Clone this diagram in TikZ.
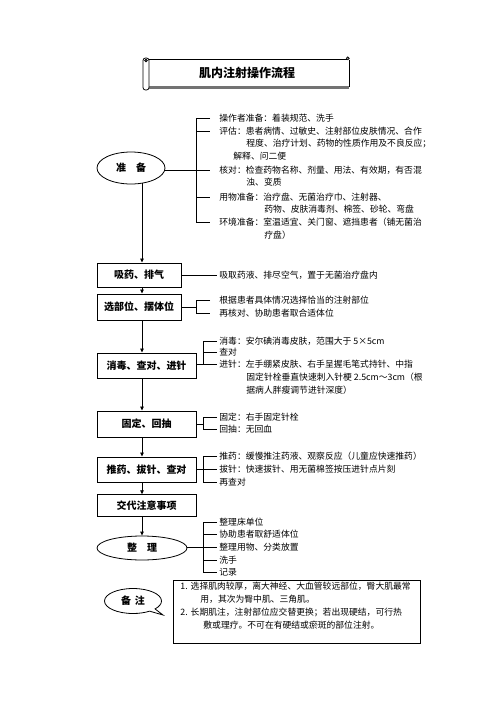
\documentclass[tikz,border=0pt]{standalone}
\usepackage{fontspec}
\setmainfont{Noto Sans CJK SC}
\usetikzlibrary{shapes.geometric,shapes.callouts,arrows.meta}
\begin{document}
\begin{tikzpicture}[x=1pt,y=-1pt,line width=0.8pt,
  txt/.style={anchor=west,inner sep=0pt,text height=7.5pt,text depth=1pt,font=\fontsize{8.8}{10}\selectfont},
  box/.style={draw,line width=0.9pt,inner sep=0pt,font=\bfseries\fontsize{10}{12}\selectfont},
  oval/.style={draw,ellipse,line width=0.8pt,inner sep=0pt,font=\bfseries\fontsize{10}{12}\selectfont},
  arr/.style={-{Triangle[length=4pt,width=3.5pt]}}]
\useasboundingbox (0,0) rectangle (496,702);

% title scroll
\draw[line width=2.2pt,black!55] (149,87.5) -- (349,87.5);
\draw (149,59) -- (346.5,59);
\draw (347.8,58.3) circle[radius=1.4];
\draw (349.2,59.5) -- (349.2,86.5);
\draw[rounded corners=2.5pt,fill=white] (143,58) rectangle (149,90);
\draw (146,60.5) circle[radius=1.3];
\node[inner sep=0pt,font=\bfseries\fontsize{12}{14}\selectfont] (tt) at (247,73) {肌内注射操作流程};

% main flow
\node[oval,minimum width=68,minimum height=32] (zb) at (131,168) {准\hspace{1em}备};
\coordinate (s0) at (142,183);
\node[box,minimum width=84,minimum height=24] (b1) at (139,275) {吸药、排气};
\node[box,minimum width=84,minimum height=26] (b2) at (139,307) {选部位、摆体位};
\node[box,minimum width=99,minimum height=25] (b3) at (146.5,365.5) {消毒、查对、进针};
\node[box,minimum width=99,minimum height=26] (b4) at (146.5,424) {固定、回抽};
\node[box,minimum width=99,minimum height=25] (b5) at (146.5,469.5) {推药、拔针、查对};
\node[box,minimum width=99,minimum height=21.5] (b6) at (146.5,505.5) {交代注意事项};
\node[oval,minimum width=90,minimum height=24] (e2) at (142,548) {整\hspace{1em}理};
\node[ellipse callout,draw,line width=0.8pt,minimum width=57,minimum height=25,inner sep=0pt,
  font=\bfseries\fontsize{10}{12}\selectfont,callout absolute pointer={(163,615)}] (bz) at (133,601) {备\hspace{0.4em}注};

\draw[arr] (s0) -- (s0 |- b1.north);
\draw[arr] (b1.south -| s0) -- (b2.north -| s0);
\draw[arr] (b2.south -| s0) -- (b3.north -| s0);
\draw[arr] (b3.south -| s0) -- (b4.north -| s0);
\draw[arr] (b4.south -| s0) -- (b5.north -| s0);
\draw[arr] (b5.south -| s0) -- (b6.north -| s0);
\draw[arr] (b6.south -| s0) -- (e2.north);

% 准备 texts
\node[txt] (a1) at (219,118) {操作者准备：着装规范、洗手};
\node[txt] (a2) at (219,131) {评估：患者病情、过敏史、注射部位皮肤情况、合作};
\node[txt] (a3) at (246,143.5) {程度、治疗计划、药物的性质作用及不良反应；};
\node[txt] (a4) at (233,156) {解释、问二便};
\node[txt] (a5) at (219,170) {核对：检查药物名称、剂量、用法、有效期，有否混};
\node[txt] (a6) at (246,182.5) {浊、变质};
\node[txt] (a7) at (219,197) {用物准备：治疗盘、无菌治疗巾、注射器、};
\node[txt] (a8) at (264,209.5) {药物、皮肤消毒剂、棉签、砂轮、弯盘};
\node[txt] (a9) at (219,222) {环境准备：室温适宜、关门窗、遮挡患者（铺无菌治};
\node[txt] (a10) at (264,235) {疗盘）};
\coordinate (ka) at ([xshift=-23pt]a5.west);
\draw ([xshift=-9pt]a1.west) -| ([xshift=-23pt]a9.west) -- ([xshift=-9pt]a9.west);
\draw ([xshift=-23pt]a2.west) -- ([xshift=-9pt]a2.west);
\draw ([xshift=-23pt]a7.west) -- ([xshift=-9pt]a7.west);
\draw (zb.east |- a5.west) -- ([xshift=-9pt]a5.west);

% 吸药
\node[txt] (t1) at (219,275) {吸取药液、排尽空气，置于无菌治疗盘内};
\draw (b1.east) -- ([xshift=-2pt]t1.west);

% 选部位
\node[txt] (c1) at (219,300.5) {根据患者具体情况选择恰当的注射部位};
\node[txt] (c2) at (219,313.5) {再核对、协助患者取合适体位};
\coordinate (kc) at ([xshift=-23pt]c1.west);
\draw ([xshift=-9pt]c1.west) -| ([xshift=-23pt]c2.west) -- ([xshift=-9pt]c2.west);
\draw (b2.east) -- (b2.east -| kc);

% 消毒
\node[txt] (d1) at (219,341) {消毒：安尔碘消毒皮肤，范围大于 5×5cm};
\node[txt] (d2) at (219,352.5) {查对};
\node[txt] (d3) at (219,364.5) {进针：左手绷紧皮肤、右手呈握毛笔式持针、中指};
\node[txt] (d4) at (246,377) {固定针栓垂直快速刺入针梗 2.5cm～3cm（根};
\node[txt] (d5) at (246,390) {据病人胖瘦调节进针深度）};
\draw ([xshift=-2pt]d1.west) -| ([xshift=-16pt]d3.west);
\draw ([xshift=-16pt]d2.west) -- ([xshift=-2pt]d2.west);
\draw (b3.east |- d3.west) -- ([xshift=-2pt]d3.west);

% 固定
\node[txt] (e1t) at (219,417.5) {固定：右手固定针栓};
\node[txt] (e2t) at (219,429.5) {回抽：无回血};
\coordinate (ke) at ([xshift=-16pt]e1t.west);
\draw ([xshift=-2pt]e1t.west) -| ([xshift=-16pt]e2t.west) -- ([xshift=-2pt]e2t.west);
\draw (b4.east) -- (b4.east -| ke);

% 推药
\node[txt] (f1) at (219,456.5) {推药：缓慢推注药液、观察反应（儿童应快速推药）};
\node[txt] (f2) at (219,469.5) {拔针：快速拔针、用无菌棉签按压进针点片刻};
\node[txt] (f3) at (219,482) {再查对};
\draw ([xshift=-2pt]f1.west) -| ([xshift=-16pt]f3.west) -- ([xshift=-2pt]f3.west);
\draw (b5.east) -- ([xshift=-2pt]f2.west);

% 整理
\node[txt] (g1) at (219,522) {整理床单位};
\node[txt] (g2) at (219,534.5) {协助患者取舒适体位};
\node[txt] (g3) at (219,547.5) {整理用物、分类放置};
\node[txt] (g4) at (219,560) {洗手};
\node[txt] (g5) at (219,572.5) {记录};
\draw ([xshift=-2pt]g1.west) -| ([xshift=-16pt]g5.west) -- ([xshift=-2pt]g5.west);
\draw ([xshift=-16pt]g2.west) -- ([xshift=-2pt]g2.west);
\draw ([xshift=-16pt]g4.west) -- ([xshift=-2pt]g4.west);
\draw (e2.east |- g3.west) -- ([xshift=-2pt]g3.west);

% note box
\node[draw,line width=1pt,anchor=north west,minimum width=247,minimum height=63,inner sep=0pt] (nb) at (173,580) {};
\node[txt] (n1) at (180,586) {1.\hspace{3pt}选择肌肉较厚，离大神经、大血管较远部位，臀大肌最常};
\node[txt] (n2) at (200,599) {用，其次为臀中肌、三角肌。};
\node[txt] (n3) at (180,612) {2.\hspace{3pt}长期肌注，注射部位应交替更换；若出现硬结，可行热};
\node[txt] (n4) at (203,625) {敷或理疗。不可在有硬结或瘀斑的部位注射。};
\end{tikzpicture}
\end{document}
